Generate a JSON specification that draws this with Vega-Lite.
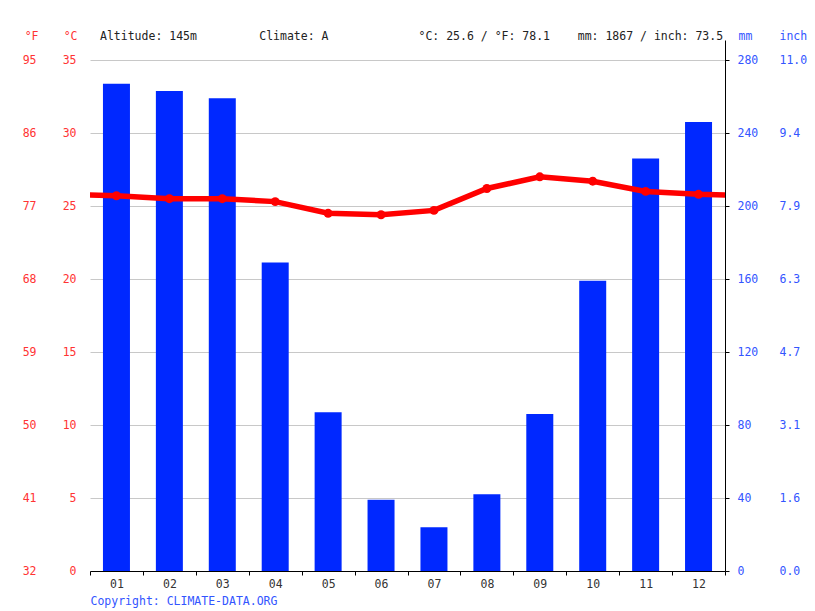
{
  "$schema": "https://vega.github.io/schema/vega-lite/v6.json",
  "width": 635,
  "height": 531,
  "autosize": {"type": "none"},
  "padding": {"left": 90, "top": 40, "right": 90, "bottom": 40},
  "background": "white",
  "config": {
    "view": {"stroke": null},
    "font": "DejaVu Sans Mono",
    "axis": {
      "labelFont": "DejaVu Sans Mono",
      "labelFontSize": 11.5,
      "titleFont": "DejaVu Sans Mono",
      "titleFontSize": 11.5,
      "titleFontWeight": "normal"
    }
  },
  "title": {
    "text": "Altitude: 145m\u00a0\u00a0\u00a0\u00a0\u00a0\u00a0\u00a0\u00a0\u00a0Climate: A\u00a0\u00a0\u00a0\u00a0\u00a0\u00a0\u00a0\u00a0\u00a0\u00a0\u00a0\u00a0\u00a0°C: 25.6 / °F: 78.1\u00a0\u00a0\u00a0\u00a0mm: 1867 / inch: 73.5",
    "anchor": "start",
    "frame": "group",
    "dx": 10,
    "dy": 25,
    "offset": 4,
    "baseline": "alphabetic",
    "font": "DejaVu Sans Mono",
    "fontSize": 11.5,
    "fontWeight": "normal",
    "color": "#222222"
  },
  "datasets": {
    "monthly": [
      {"month": 1, "temp": 25.7, "precip": 267},
      {"month": 2, "temp": 25.5, "precip": 263},
      {"month": 3, "temp": 25.5, "precip": 259},
      {"month": 4, "temp": 25.3, "precip": 169},
      {"month": 5, "temp": 24.5, "precip": 87},
      {"month": 6, "temp": 24.4, "precip": 39},
      {"month": 7, "temp": 24.7, "precip": 24},
      {"month": 8, "temp": 26.2, "precip": 42},
      {"month": 9, "temp": 27.0, "precip": 86},
      {"month": 10, "temp": 26.7, "precip": 159},
      {"month": 11, "temp": 26.0, "precip": 226},
      {"month": 12, "temp": 25.8, "precip": 246}
    ],
    "temps": [
      {"month": 0, "temp": 25.8},
      {"month": 1, "temp": 25.7},
      {"month": 2, "temp": 25.5},
      {"month": 3, "temp": 25.5},
      {"month": 4, "temp": 25.3},
      {"month": 5, "temp": 24.5},
      {"month": 6, "temp": 24.4},
      {"month": 7, "temp": 24.7},
      {"month": 8, "temp": 26.2},
      {"month": 9, "temp": 27.0},
      {"month": 10, "temp": 26.7},
      {"month": 11, "temp": 26.0},
      {"month": 12, "temp": 25.8},
      {"month": 13, "temp": 25.7}
    ]
  },
  "encoding": {
    "x": {
      "field": "month",
      "type": "quantitative",
      "scale": {"domain": [0.5, 12.5], "nice": false, "zero": false, "padding": 0},
      "axis": {
        "values": [0.5, 1, 1.5, 2, 2.5, 3, 3.5, 4, 4.5, 5, 5.5, 6, 6.5, 7, 7.5, 8, 8.5, 9, 9.5, 10, 10.5, 11, 11.5, 12, 12.5],
        "labelExpr": "datum.value % 1 === 0 ? (datum.value < 10 ? '0' : '') + datum.value : ''",
        "tickOpacity": {"condition": {"test": "datum.value % 1 !== 0", "value": 1}, "value": 0},
        "tickSize": 4,
        "tickColor": "black",
        "domainColor": "black",
        "labelColor": "#333333",
        "labelPadding": 3,
        "labelFlush": false,
        "labelOverlap": false,
        "grid": false,
        "title": "Copyright: CLIMATE-DATA.ORG",
        "titleAnchor": "start",
        "titleColor": "#3355ff",
        "titlePadding": 6
      }
    }
  },
  "layer": [
    {
      "data": {"name": "monthly"},
      "mark": {"type": "bar", "size": 27, "color": "#0028ff"},
      "encoding": {
        "y": {
          "field": "precip",
          "type": "quantitative",
          "scale": {"domain": [0, 290.96], "nice": false},
          "axis": {
            "orient": "right",
            "values": [0, 40, 80, 120, 160, 200, 240, 280],
            "grid": false,
            "domainColor": "black",
            "tickColor": "black",
            "tickSize": 4,
            "labelPadding": 8,
            "labelColor": "#3355ff",
            "title": "mm",
            "titleAngle": 0,
            "titleAlign": "left",
            "titleBaseline": "middle",
            "titleX": 13,
            "titleY": -4,
            "titleColor": "#3355ff"
          }
        }
      }
    },
    {
      "data": {"name": "monthly"},
      "mark": {"type": "bar", "size": 27, "opacity": 0},
      "encoding": {
        "y": {
          "field": "precip",
          "type": "quantitative",
          "scale": {"domain": [0, 290.96], "nice": false},
          "axis": {
            "orient": "right",
            "values": [0, 40, 80, 120, 160, 200, 240, 280],
            "labelExpr": "format(datum.value / 25.4, '.1f')",
            "grid": false,
            "domain": false,
            "ticks": false,
            "labelPadding": 54,
            "labelColor": "#3355ff",
            "title": "inch",
            "titleAngle": 0,
            "titleAlign": "left",
            "titleBaseline": "middle",
            "titleX": 54,
            "titleY": -4,
            "titleColor": "#3355ff"
          }
        }
      }
    },
    {
      "data": {"name": "temps"},
      "mark": {"type": "line", "color": "#ff0000", "strokeWidth": 5.5, "clip": true},
      "encoding": {
        "y": {
          "field": "temp",
          "type": "quantitative",
          "scale": {"domain": [0, 36.37], "nice": false},
          "axis": {
            "orient": "left",
            "values": [0, 5, 10, 15, 20, 25, 30, 35],
            "grid": true,
            "gridColor": "#c8c8c8",
            "domain": false,
            "ticks": false,
            "labelPadding": 14,
            "labelColor": "#ff3333",
            "title": "°C",
            "titleAngle": 0,
            "titleAlign": "right",
            "titleBaseline": "middle",
            "titleX": -13,
            "titleY": -4,
            "titleColor": "#ff3333"
          }
        }
      }
    },
    {
      "data": {"name": "monthly"},
      "mark": {"type": "circle", "size": 80, "color": "#ff0000", "opacity": 1},
      "encoding": {
        "y": {
          "field": "temp",
          "type": "quantitative",
          "scale": {"domain": [0, 36.37], "nice": false},
          "axis": {
            "orient": "left",
            "values": [0, 5, 10, 15, 20, 25, 30, 35],
            "labelExpr": "format(datum.value * 9 / 5 + 32, 'd')",
            "grid": false,
            "domain": false,
            "ticks": false,
            "labelPadding": 54,
            "labelColor": "#ff3333",
            "title": "°F",
            "titleAngle": 0,
            "titleAlign": "right",
            "titleBaseline": "middle",
            "titleX": -52,
            "titleY": -4,
            "titleColor": "#ff3333"
          }
        }
      }
    }
  ],
  "resolve": {"scale": {"y": "independent"}}
}
